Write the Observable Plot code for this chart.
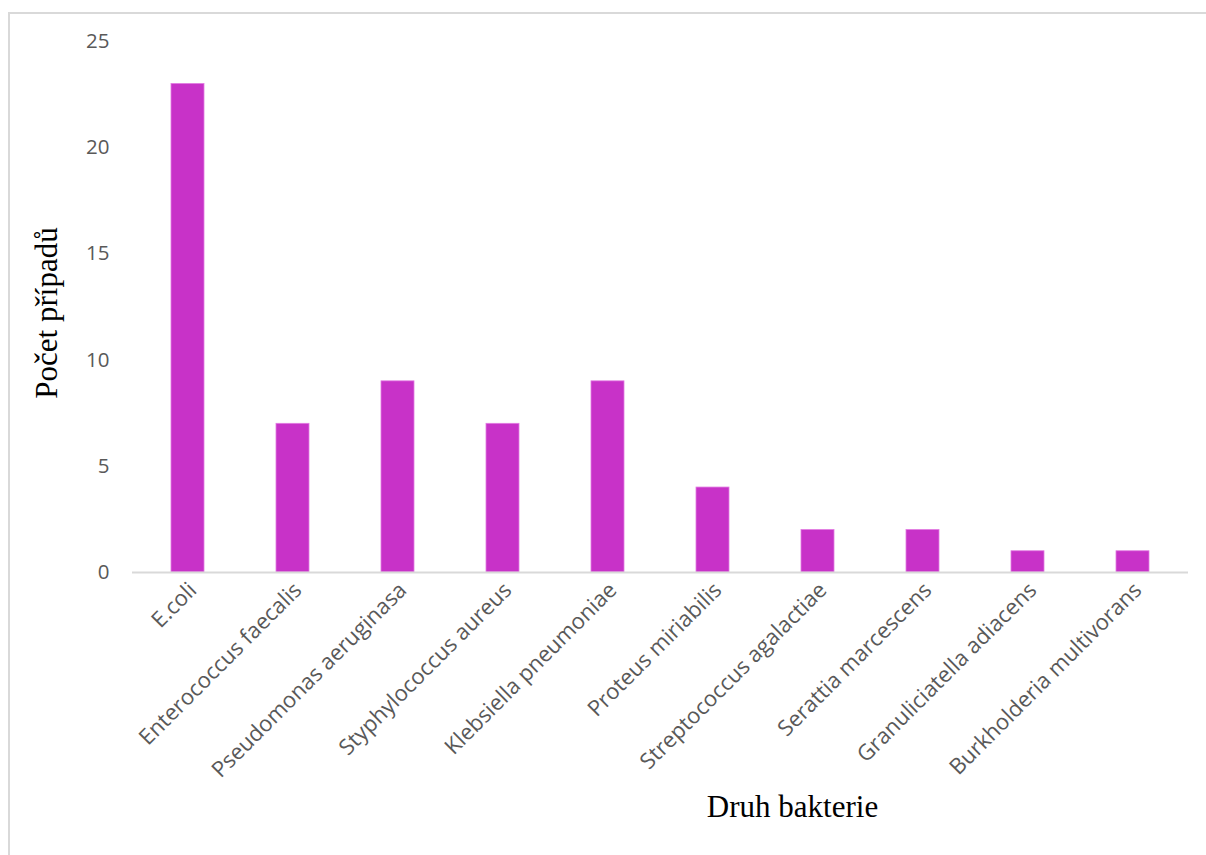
<!DOCTYPE html>
<html>
<head>
<meta charset="utf-8">
<script src="https://cdn.jsdelivr.net/npm/d3@7"></script>
<script src="https://cdn.jsdelivr.net/npm/@observablehq/plot@0.6"></script>
<style>
  html, body { margin: 0; padding: 0; background: #fff; }
  #wrap { position: relative; width: 1206px; height: 855px; overflow: hidden; }
  #frame { position: absolute; left: 8px; top: 12px; width: 1300px; height: 1000px;
           border-top: 2px solid #d9d9d9; border-left: 2px solid #d9d9d9; box-sizing: border-box; }
  #chart { position: absolute; left: 0; top: 0; }
</style>
</head>
<body>
<div id="wrap"><div id="frame"></div><div id="chart"></div></div>
<script>
const categories = [
  "E.coli",
  "Enterococcus faecalis",
  "Pseudomonas aeruginasa",
  "Styphylococcus aureus",
  "Klebsiella pneumoniae",
  "Proteus miriabilis",
  "Streptococcus agalactiae",
  "Serattia marcescens",
  "Granuliciatella adiacens",
  "Burkholderia multivorans"
];
const counts = [23, 7, 9, 7, 9, 4, 2, 2, 1, 1];
const yTicks = [0, 5, 10, 15, 20, 25];
const xTitle = "Druh bakterie";
const yTitle = "Počet případů";

const data = categories.map((c, i) => ({category: c, count: counts[i]}));

const chart = Plot.plot({
  width: 1206,
  height: 855,
  marginTop: 41,
  marginLeft: 132,
  marginRight: 18,
  marginBottom: 283,
  style: {background: "transparent", fontFamily: "'Open Sans', sans-serif", fontSize: "21px", color: "#595959"},
  x: {domain: categories, paddingInner: 0.69, paddingOuter: 0.33, label: null},
  y: {domain: [0, 25], ticks: yTicks, label: null},
  marks: [
    Plot.axisY({ticks: yTicks, tickSize: 0, tickPadding: 23, label: null, fill: "#595959", fontSize: 20.5}),
    Plot.axisX({tickSize: 0, tickPadding: 14, tickRotate: -45, dx: 5, label: null, fill: "#595959", fontSize: 22}),
    Plot.barY(data, {x: "category", y: "count", fill: "#c832c8", stroke: "#e27ae2", strokeWidth: 0.8}),
    Plot.ruleY([0], {stroke: "#d9d9d9", strokeWidth: 2}),
    Plot.text([yTitle], {frameAnchor: "left", textAnchor: "middle", dx: -85, dy: 6, rotate: -90, text: d => d,
      fontFamily: "'Liberation Serif', 'Times New Roman', serif", fontSize: 31, fill: "#000"}),
    Plot.text([xTitle], {frameAnchor: "bottom", textAnchor: "middle", dx: 132, dy: 244, text: d => d,
      fontFamily: "'Liberation Serif', 'Times New Roman', serif", fontSize: 31, fill: "#000"})
  ]
});
document.getElementById("chart").appendChild(chart);
</script>
</body>
</html>
